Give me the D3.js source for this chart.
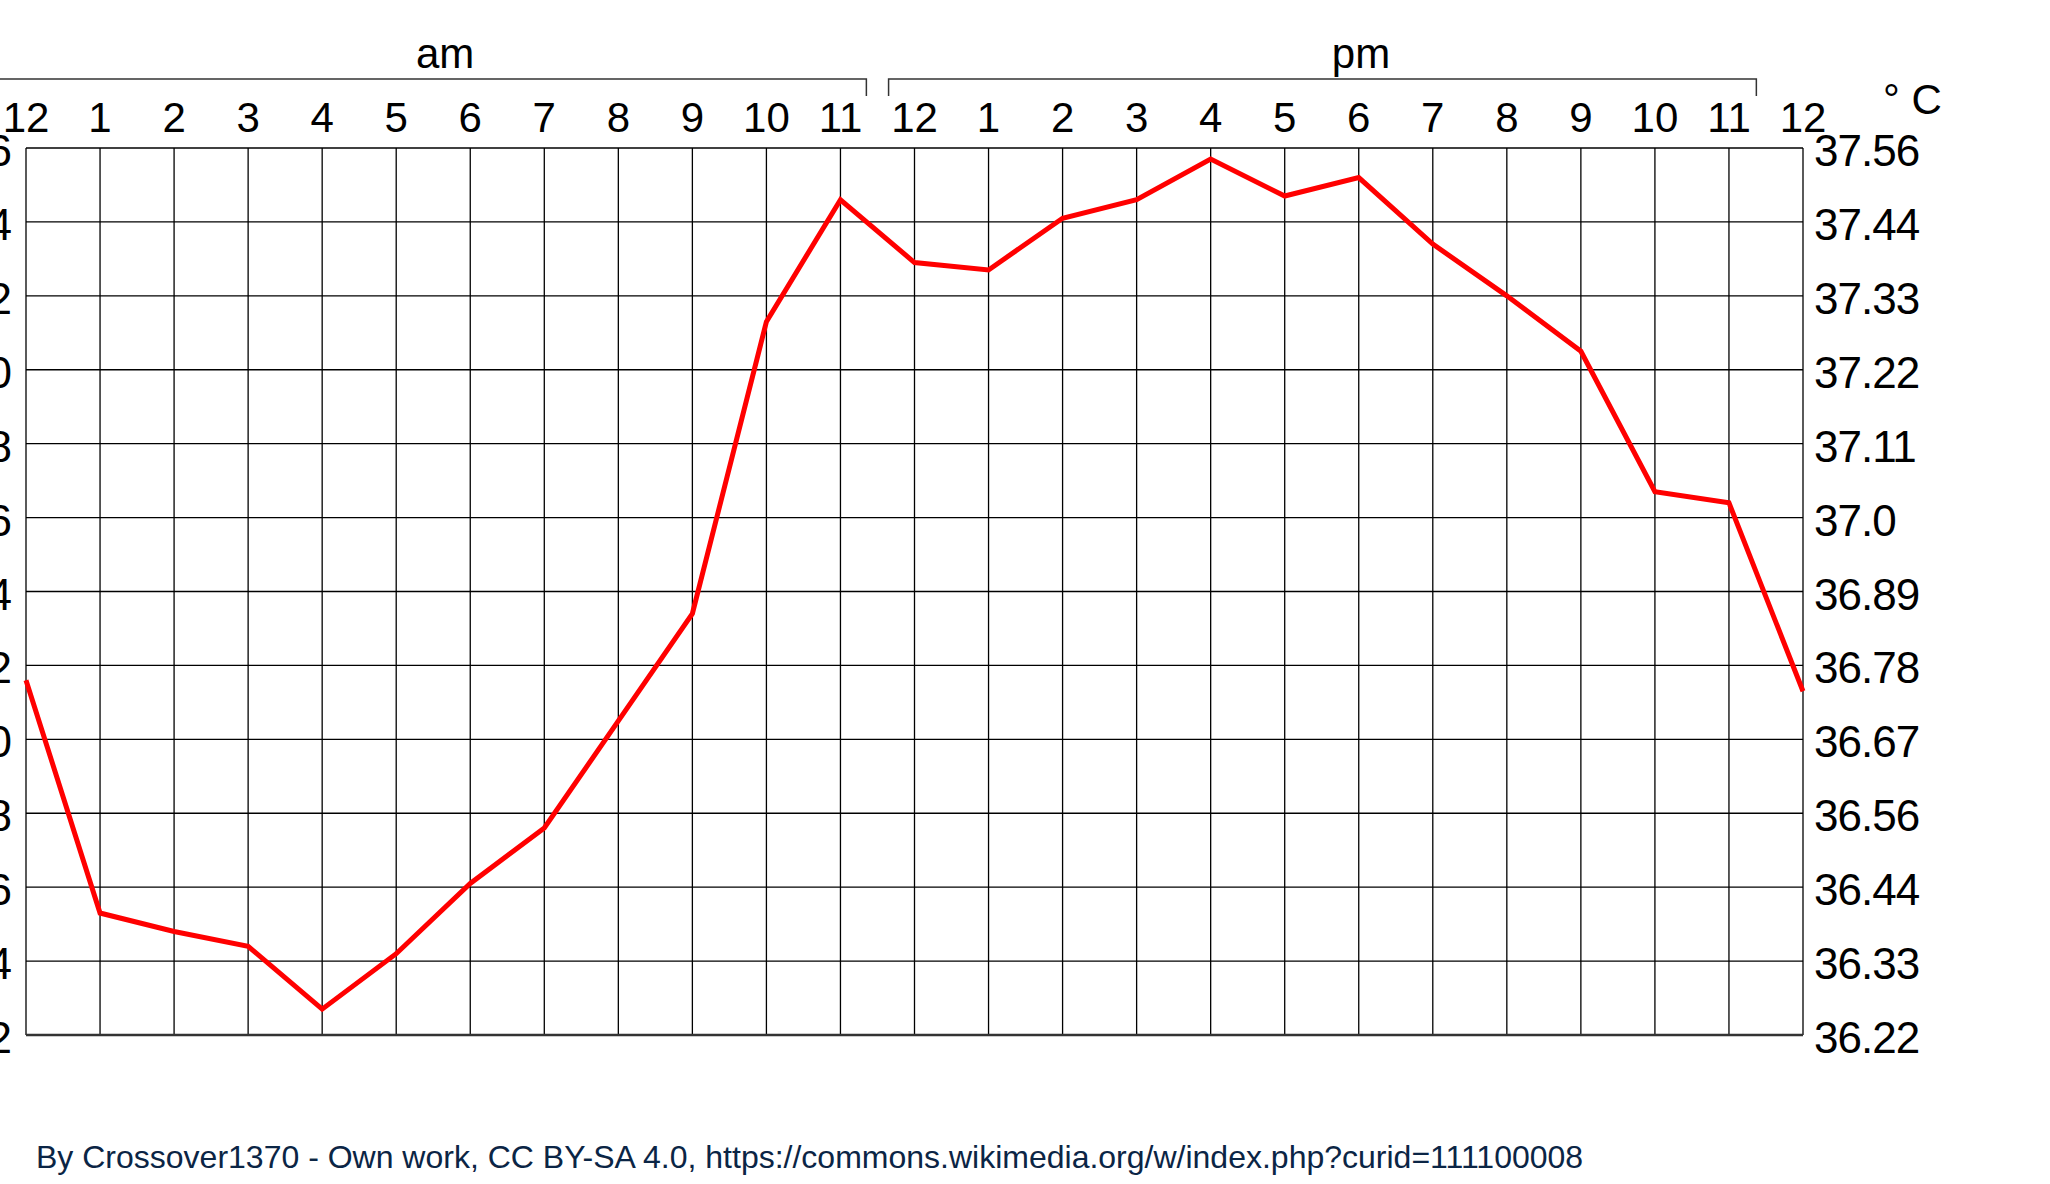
<!DOCTYPE html>
<html><head><meta charset="utf-8">
<script src="https://cdn.jsdelivr.net/npm/d3@7"></script>
<style>body{margin:0;background:#fff}svg{display:block}text{font-family:"Liberation Sans",Arial,sans-serif}</style>
</head><body>
<script>
const hourLabels = ["12","1","2","3","4","5","6","7","8","9","10","11","12","1","2","3","4","5","6","7","8","9","10","11","12"];
const tempF = [98.16,97.53,97.48,97.44,97.27,97.42,97.61,97.76,98.05,98.34,99.13,99.46,99.29,99.27,99.41,99.46,99.57,99.47,99.52,99.34,99.20,99.05,98.67,98.64,98.13];
const leftTicks = [99.6,99.4,99.2,99.0,98.8,98.6,98.4,98.2,98.0,97.8,97.6,97.4,97.2];
const rightTicks = ["37.56","37.44","37.33","37.22","37.11","37.0","36.89","36.78","36.67","36.56","36.44","36.33","36.22"];
const periods = ["am","pm"];
const credit = "By Crossover1370 - Own work, CC BY-SA 4.0, https://commons.wikimedia.org/w/index.php?curid=111100008";

const W=2050,H=1184, L=26, R=1803, T=148, B=1035;
const svg=d3.select("body").append("svg").attr("width",W).attr("height",H);
const x=d3.scaleLinear().domain([0,24]).range([L,R]);
const y=d3.scaleLinear().domain([97.2,99.6]).range([B,T]);

svg.append("g").selectAll("line").data(d3.range(25)).join("line")
  .attr("x1",d=>x(d)).attr("x2",d=>x(d)).attr("y1",T).attr("y2",B)
  .attr("stroke","#000").attr("stroke-width",1.3);
svg.append("g").selectAll("line").data(leftTicks).join("line")
  .attr("x1",L).attr("x2",R).attr("y1",d=>y(d)).attr("y2",d=>y(d))
  .attr("stroke","#000").attr("stroke-width",1.3);
svg.append("line").attr("x1",L).attr("x2",R).attr("y1",B).attr("y2",B).attr("stroke","#333").attr("stroke-width",2.5);

svg.append("g").selectAll("text").data(hourLabels).join("text")
  .attr("x",(d,i)=>x(i)).attr("y",132).attr("text-anchor","middle")
  .attr("font-size",42).text(d=>d);

svg.append("g").selectAll("text").data(leftTicks).join("text")
  .attr("x",12).attr("y",d=>y(d)+18).attr("text-anchor","end")
  .attr("font-size",44).text(d=>d.toFixed(1));
svg.append("g").selectAll("text").data(rightTicks).join("text")
  .attr("x",1814).attr("y",(d,i)=>y(leftTicks[i])+18)
  .attr("font-size",44).attr("letter-spacing",-1).text(d=>d);
svg.append("text").attr("x",1883).attr("y",114).attr("font-size",42).text("° C");

const br=[[-1,x(11.35)],[x(11.65),x(23.37)]];
periods.forEach((p,i)=>{
  const [a,b]=br[i];
  svg.append("path").attr("d",i==0?`M${a},79H${b}V96`:`M${a},96V79H${b}V96`)
    .attr("fill","none").attr("stroke","#333").attr("stroke-width",1.5);
  svg.append("text").attr("x",i==0?x(5.66):x(18.03)).attr("y",68).attr("text-anchor","middle")
    .attr("font-size",42).text(p);
});

svg.append("path").datum(tempF)
  .attr("d",d3.line().x((d,i)=>x(i)).y(d=>y(d)))
  .attr("fill","none").attr("stroke","#ff0000").attr("stroke-width",5);

svg.append("text").attr("x",36).attr("y",1168).attr("font-size",32).attr("fill","#0b2545").text(credit);
</script>
</body></html>
